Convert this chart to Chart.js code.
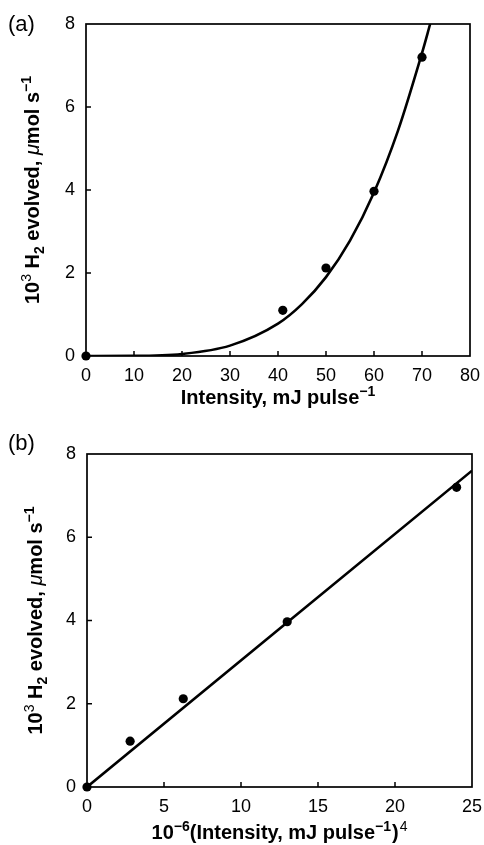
<!DOCTYPE html>
<html>
<head>
<meta charset="utf-8">
<script src="https://cdn.jsdelivr.net/npm/chart.js@4.4.1/dist/chart.umd.min.js"></script>
<style>
  html, body { margin: 0; padding: 0; background: #fff; }
  body { width: 484px; height: 845px; position: relative; overflow: hidden; }
  canvas { position: absolute; left: 0; }
  #chartA { top: 0; }
  #chartB { top: 420px; }
</style>
</head>
<body>
<canvas id="chartA" width="484" height="420"></canvas>
<canvas id="chartB" width="484" height="425"></canvas>
<script>
// measured points (panel a)
const intensity = [0, 41, 50, 60, 70];
const h2Rate = [0, 1.1, 2.12, 3.97, 7.2];
// fitted curve
const curveX = [0, 10, 20, 30, 40, 45, 50, 55, 60, 65, 70, 71.7];
const curveY = [0, 0.003, 0.05, 0.25, 0.78, 1.25, 1.9, 2.78, 3.94, 5.43, 7.3, 8.0];
// panel b: 10^-6 (intensity)^4
const intensity4 = [0, 2.8, 6.25, 13.0, 24.0];
const fitLineX = [0, 25];
const fitLineY = [0, 7.6];

const xTicksA = [0, 10, 20, 30, 40, 50, 60, 70, 80];
const xTicksB = [0, 5, 10, 15, 20, 25];
const yTicks = [0, 2, 4, 6, 8];

const FONT = '"Liberation Sans", Arial, Helvetica, sans-serif';

function pairs(xs, ys) {
    return xs.map((x, i) => ({ x: x, y: ys[i] }));
}

// draws text runs with sub/superscripts, centred on (cx, cy)
function drawRich(ctx, runs, cx, cy, size, rotate) {
    ctx.save();
    ctx.translate(cx, cy);
    if (rotate) ctx.rotate(-Math.PI / 2);
    ctx.textBaseline = 'alphabetic';
    ctx.fillStyle = '#000';
    const fontFor = r => {
        const s = (r.sup || r.sub) ? Math.round(size * 0.72) : size;
        return (r.i ? 'italic ' : '') + (r.nb ? '' : 'bold ') + s + 'px ' + FONT;
    };
    let total = 0;
    runs.forEach(r => { ctx.font = fontFor(r); total += ctx.measureText(r.t).width + (r.gap || 0); });
    let x = -total / 2;
    const base = size * 0.36;
    runs.forEach(r => {
        ctx.font = fontFor(r);
        let dy = 0;
        if (r.sup) dy = -size * 0.4;
        if (r.sub) dy = size * 0.22;
        x += r.gap || 0;
        ctx.fillText(r.t, x, base + dy);
        x += ctx.measureText(r.t).width;
    });
    ctx.restore();
}

const yTitleRuns = [
    { t: '10' }, { t: '3', sup: true, nb: true }, { t: ' H' }, { t: '2', sub: true },
    { t: ' evolved, ' }, { t: '\u03bc', i: true, nb: true }, { t: 'mol s' }, { t: '\u22121', sup: true }
];

const framePlugin = {
    id: 'frame',
    beforeDatasetsDraw(chart, args, opts) {
        const { ctx, chartArea: a } = chart;
        const xs = chart.scales.x, ys = chart.scales.y;
        ctx.save();
        ctx.strokeStyle = '#000';
        ctx.lineWidth = 1.7;
        ctx.strokeRect(a.left, a.top, a.right - a.left, a.bottom - a.top);
        ctx.lineWidth = 1.5;
        ctx.beginPath();
        opts.xTicks.slice(1, -1).forEach(v => {
            const px = xs.getPixelForValue(v);
            ctx.moveTo(px, a.bottom);
            ctx.lineTo(px, a.bottom - 5);
        });
        yTicks.slice(1, -1).forEach(v => {
            const py = ys.getPixelForValue(v);
            ctx.moveTo(a.left, py);
            ctx.lineTo(a.left + 5, py);
        });
        ctx.stroke();
        ctx.restore();
    },
    afterDraw(chart, args, opts) {
        const { ctx, chartArea: a } = chart;
        ctx.save();
        ctx.fillStyle = '#000';
        ctx.font = '22px ' + FONT;
        ctx.textBaseline = 'middle';
        ctx.textAlign = 'left';
        ctx.fillText(opts.panel, opts.panelX, opts.panelY);
        ctx.restore();
        drawRich(ctx, yTitleRuns, opts.yTitleX, (a.top + a.bottom) / 2, 20, true);
        drawRich(ctx, opts.xTitle, (a.left + a.right) / 2, opts.xTitleY, 20, false);
    }
};

function makeChart(id, cfg) {
    return new Chart(document.getElementById(id), {
        type: 'scatter',
        data: {
            datasets: [
                {
                    data: cfg.line,
                    showLine: true,
                    borderColor: '#000',
                    borderWidth: 2.6,
                    pointRadius: 0,
                    cubicInterpolationMode: 'monotone',
                    order: 2
                },
                {
                    data: cfg.points,
                    pointRadius: 4.6,
                    pointBackgroundColor: '#000',
                    pointBorderColor: '#000',
                    pointBorderWidth: 0,
                    clip: false,
                    order: 1
                }
            ]
        },
        options: {
            responsive: false,
            animation: false,
            events: [],
            layout: { padding: cfg.padding },
            scales: {
                x: {
                    type: 'linear',
                    min: cfg.xTicks[0],
                    max: cfg.xTicks[cfg.xTicks.length - 1],
                    afterBuildTicks: s => { s.ticks = cfg.xTicks.map(v => ({ value: v })); },
                    afterFit: s => { s.height = cfg.xHeight; s.paddingLeft = 0; s.paddingRight = 0; },
                    grid: { display: false, drawTicks: false },
                    border: { display: false },
                    ticks: { color: '#000', padding: 9, maxRotation: 0, autoSkip: false, font: { family: FONT, size: 18 } }
                },
                y: {
                    type: 'linear',
                    min: 0,
                    max: 8,
                    afterBuildTicks: s => { s.ticks = yTicks.map(v => ({ value: v })); },
                    afterFit: s => { s.width = cfg.yWidth; s.paddingTop = 0; s.paddingBottom = 0; },
                    grid: { display: false, drawTicks: false },
                    border: { display: false },
                    ticks: { color: '#000', padding: 11, font: { family: FONT, size: 18 } }
                }
            },
            plugins: {
                legend: { display: false },
                tooltip: { enabled: false },
                frame: {
                    xTicks: cfg.xTicks,
                    panel: cfg.panel,
                    panelX: cfg.panelX,
                    panelY: cfg.panelY,
                    yTitleX: cfg.yTitleX,
                    xTitleY: cfg.xTitleY,
                    xTitle: cfg.xTitle
                }
            }
        },
        plugins: [framePlugin]
    });
}

makeChart('chartA', {
    line: pairs(curveX, curveY),
    points: pairs(intensity, h2Rate),
    xTicks: xTicksA,
    padding: { top: 24, right: 14, left: 0, bottom: 0 },
    xHeight: 64,
    yWidth: 86,
    panel: '(a)',
    panelX: 8,
    panelY: 25,
    yTitleX: 32,
    xTitleY: 397,
    xTitle: [{ t: 'Intensity, mJ pulse' }, { t: '\u22121', sup: true }]
});

makeChart('chartB', {
    line: pairs(fitLineX, fitLineY),
    points: pairs(intensity4, h2Rate),
    xTicks: xTicksB,
    padding: { top: 34, right: 12, left: 0, bottom: 0 },
    xHeight: 58,
    yWidth: 87,
    panel: '(b)',
    panelX: 8,
    panelY: 24,
    yTitleX: 35,
    xTitleY: 412,
    xTitle: [{ t: '10' }, { t: '\u22126', sup: true }, { t: '(Intensity, mJ pulse' }, { t: '\u22121', sup: true }, { t: ')', gap: 1 }, { t: '4', sup: true, nb: true, gap: 1 }]
});
</script>
</body>
</html>
